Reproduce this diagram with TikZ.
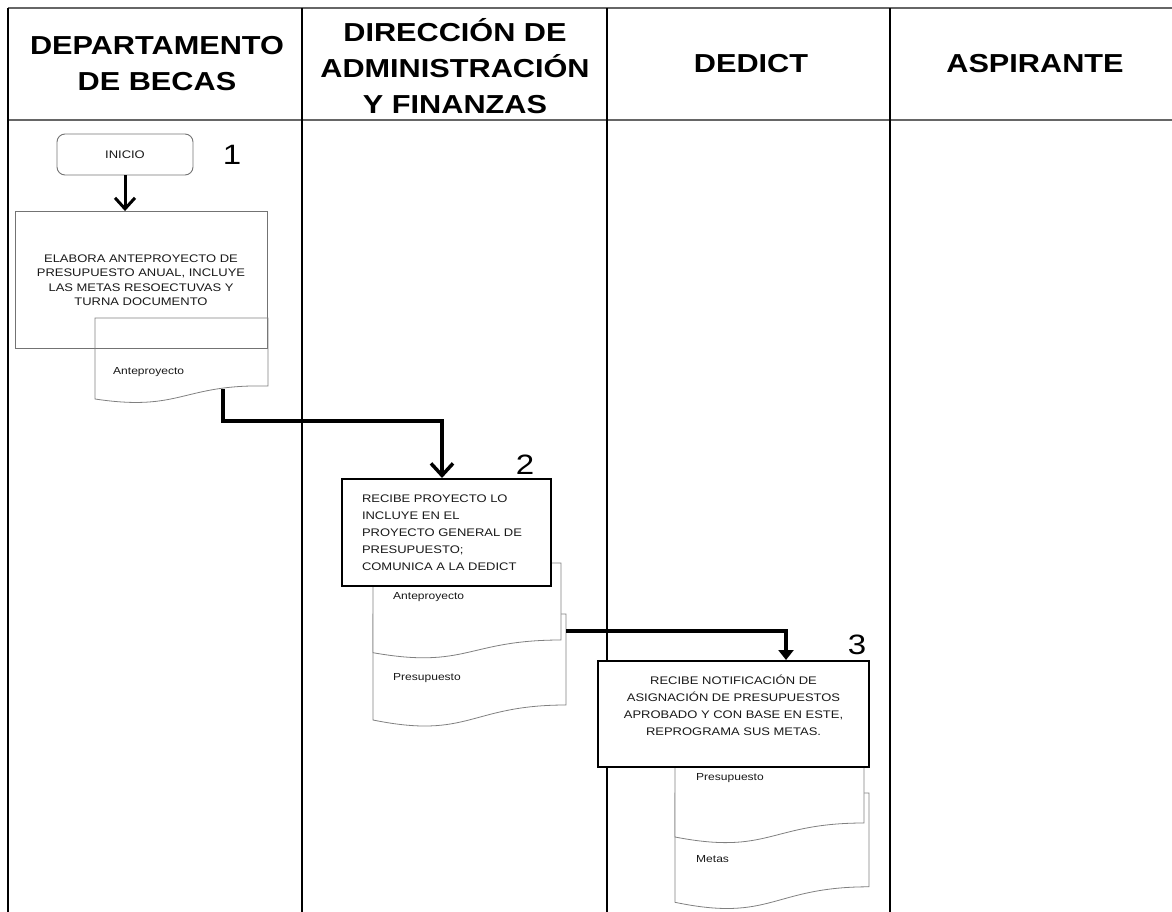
\documentclass[tikz,border=0pt]{standalone}
\usepackage{fontspec}
\setmainfont{Liberation Sans}[FakeStretch=1.18]
\usetikzlibrary{positioning,arrows.meta}

\begin{document}
\begin{tikzpicture}[x=1pt,y=-1pt,
  hd/.style={font=\fontsize{26}{36}\selectfont\bfseries,align=center},
  tx/.style={font=\fontsize{11}{17}\selectfont,text=black!90},
  lbl/.style={font=\fontsize{10.2}{12}\selectfont,text=black!90,anchor=west,inner sep=0pt},
  proc/.style={draw=black!55,line width=0.9pt,minimum width=252pt,minimum height=137pt,inner sep=0pt,align=center,tx},
  thk/.style={draw,line width=2pt,fill=white,tx},
  doc/.style={draw=black!50,line width=0.8pt},
  num/.style={font=\fontsize{28}{28}\selectfont},
  ar/.style={-{Straight Barb[length=12pt,width=22pt]},line width=3.5pt},
  arf/.style={-{Triangle[length=10pt,width=15pt]},line width=3.5pt}]
\useasboundingbox (0,0) rectangle (1172,912);
% lanes
\draw[black!60,line width=1.3pt] (8,8) -- (1172,8) (8,120) -- (1172,120);
\draw[line width=1.3pt] (8,8) -- (8,912) (302,8) -- (302,912) (607,8) -- (607,912) (890,8) -- (890,912);
\node[hd] (h1) at (157,64) {DEPARTAMENTO\\DE BECAS};
\node[hd] (h2) at (455,66) {DIRECCIÓN DE\\ADMINISTRACIÓN\\Y FINANZAS};
\node[hd] (h3) at (751,64) {DEDICT};
\node[hd] (h4) at (1035,64) {ASPIRANTE};
% step 1
\node[draw=black!55,line width=0.9pt,rounded corners=8pt,minimum width=136pt,minimum height=41pt,tx] (ini) at (125,154.5) {INICIO};
\node[num] (n1) at (232,155) {1};
\node[proc,font=\fontsize{11}{14.5}\selectfont] (p1) at (141,280) {ELABORA ANTEPROYECTO DE\\PRESUPUESTO ANUAL, INCLUYE\\LAS METAS RESOECTUVAS Y\\TURNA DOCUMENTO};
\draw[doc] (95,318) -- (268,318) -- (268,386) .. controls (181.5,384) and (181.5,412) .. (95,399) -- cycle;
\node[lbl] (a1) at (113,372) {Anteproyecto};
\coordinate (d1) at (223,389);
\draw[-{Straight Barb[length=11pt,width=20pt]},line width=3pt] (ini.south) -- (ini.south |- p1.north);
% step 2
\draw[doc,fill=white] (373,614) -- (566,614) -- (566,705) .. controls (469.5,705) and (469.5,739.6) .. (373,720) -- cycle;
\draw[doc,fill=white] (373,563) -- (561,563) -- (561,640) .. controls (467,640) and (467,669.3) .. (373,652.7) -- cycle;
\node[lbl] (a2) at (393,597) {Anteproyecto};
\node[lbl] (b2) at (393,678) {Presupuesto};
\node[thk,text width=169pt,inner xsep=20pt,inner ysep=0pt,minimum height=107pt,align=left] (p2) at (446.5,532.5) {RECIBE PROYECTO LO\\INCLUYE EN EL\\PROYECTO GENERAL DE\\PRESUPUESTO;\\COMUNICA A LA DEDICT};
\node[num] (n2) at (525,465) {2};
\draw[ar] (d1) -- ++(0,32) -| ([xshift=-4.5pt]p2.north);
\coordinate (d2) at (566,631);
% step 3
\draw[doc,fill=white] (675,793) -- (869,793) -- (869,886.8) .. controls (772,886.8) and (772,922.5) .. (675,902.3) -- cycle;
\draw[doc,fill=white] (675,738) -- (864,738) -- (864,823) .. controls (769.5,823) and (769.5,855.3) .. (675,837) -- cycle;
\node[lbl] (b3) at (696,778) {Presupuesto};
\node[lbl] (m3) at (696,859) {Metas};
\node[thk,minimum width=271pt,minimum height=106pt,inner sep=0pt,align=center] (p3) at (733.5,714) {RECIBE NOTIFICACIÓN DE\\ASIGNACIÓN DE PRESUPUESTOS\\APROBADO Y CON BASE EN ESTE,\\REPROGRAMA SUS METAS.\\};
\node[num] (n3) at (857,645) {3};
\draw[arf] (d2) -| ([xshift=52.5pt]p3.north);
\end{tikzpicture}
\end{document}
